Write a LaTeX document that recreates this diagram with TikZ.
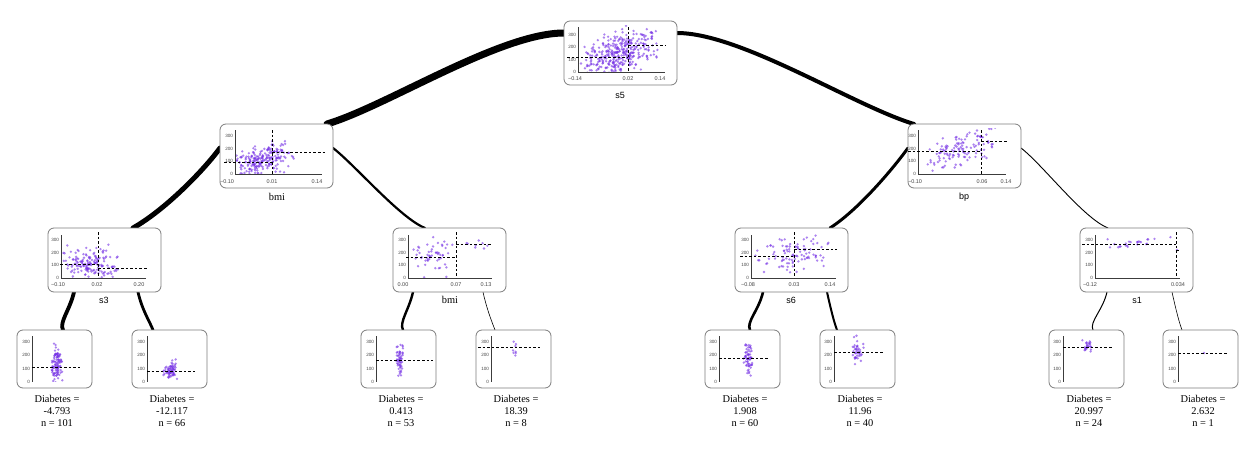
\documentclass[tikz,border=0pt]{standalone}
\usepackage{fontspec}
\setmainfont{Liberation Serif}
\setsansfont{Liberation Sans}
\usetikzlibrary{calc}
\pgfdeclarelayer{bg}
\pgfdeclarelayer{edges}
\pgfsetlayers{bg,edges,main}
\definecolor{ptc}{RGB}{118,50,230}
\definecolor{axc}{RGB}{60,60,60}
\definecolor{boxc}{RGB}{125,125,125}
\definecolor{tickc}{RGB}{70,70,70}
\tikzset{
 box/.style={draw=boxc, line width=0.8pt, rounded corners=6pt, inner sep=0pt, outer sep=0pt, fill=white, anchor=north west},
 dbox/.style={box, minimum width=113pt, minimum height=64pt},
 lbox/.style={box, minimum width=75pt, minimum height=58pt},
 axisl/.style={draw=axc, line width=0.8pt},
 meanl/.style={draw=black, line width=0.9pt, dash pattern=on 2.6pt off 2pt},
 pt/.style={fill=ptc, fill opacity=0.6},
 ytick/.style={font=\sffamily\fontsize{4.6}{5}\selectfont, text=tickc, anchor=east, inner sep=0pt},
 xtick/.style={font=\sffamily\fontsize{5.5}{6}\selectfont, text=tickc, inner sep=0pt},
 slab/.style={font=\sffamily\fontsize{9}{10}\selectfont, inner sep=0pt},
 rlab/.style={font=\fontsize{10.4}{12}\selectfont, inner sep=0pt},
 leaftxt/.style={font=\fontsize{10.4}{11.8}\selectfont, align=center, anchor=north, inner sep=0pt},
 conn/.style={draw=black, line cap=round},
}
% scatter: xc, xs, yc, slope, sd, n
\newcommand\scat[6]{\foreach \k in {1,...,#6}{%
  \pgfmathsetmacro\spx{#1+#2*(rnd+rnd-1)}%
  \pgfmathsetmacro\spy{#3+(#4)*(\spx-(#1))+#5*2*(rnd+rnd+rnd-1.5)}%
  \fill[pt] (\spx,\spy) circle (1.3pt);}}
% y ticks: prefix, axis x, y of zero, px per 100
\newcommand\yticks[4]{%
  \node[ytick] (#1y0) at (#2-1.8,#3) {0};
  \node[ytick] (#1y1) at (#2-1.8,#3-#4) {100};
  \node[ytick] (#1y2) at (#2-1.8,#3-2*#4) {200};
  \node[ytick] (#1y3) at (#2-1.8,#3-3*#4) {300};}
\begin{document}
\begin{tikzpicture}[x=1pt,y=-1pt]
\pgfmathsetseed{4242}
\begin{pgfonlayer}{bg}
\fill[white] (0,0) rectangle (1254,455);
\end{pgfonlayer}
\useasboundingbox (0,0) rectangle (1254,455);

% ---------- root s5 ----------
\node[dbox] (root) at (564,21) {};
\begin{scope}
 \clip (579,25) rectangle (668,71.4);
 \scat{620}{42}{53}{-0.3}{9}{353}
\end{scope}
\draw[axisl] (578,27) -- (578,72) -- (665,72);
\yticks{r}{578}{72}{12.33}
\node[xtick] (rx1) at (575,79) {−0.14};
\node[xtick] (rx2) at (628,79) {0.02};
\node[xtick] (rx3) at (660,79) {0.14};
\draw[meanl] (628,27) -- (628,72);
\draw[meanl] (567,57) -- (628,57);
\draw[meanl] (628,45) -- (665,45);
\node[slab] (rootlab) at (620,95) {s5};

% ---------- bmi ----------
\node[dbox] (bmi) at (220,124) {};
\begin{scope}
 \clip (236,128) rectangle (325,173.4);
 \scat{262}{33}{160}{-0.32}{7.5}{228}
\end{scope}
\draw[axisl] (235,130) -- (235,174) -- (322,174);
\yticks{b}{235}{174}{12.67}
\node[xtick] (bx1) at (227,182) {−0.10};
\node[xtick] (bx2) at (272,182) {0.01};
\node[xtick] (bx3) at (317,182) {0.14};
\draw[meanl] (272,130) -- (272,174);
\draw[meanl] (224,162) -- (272,162);
\draw[meanl] (272,152) -- (326,152);
\node[rlab] (bmilab) at (277,197) {bmi};

% ---------- bp ----------
\node[dbox] (bp) at (908,124) {};
\begin{scope}
 \clip (919,128) rectangle (1010,173.4);
 \scat{962}{42}{150}{-0.3}{8}{125}
\end{scope}
\draw[axisl] (918,130) -- (918,174) -- (1006,174);
\yticks{p}{918}{174}{12.67}
\node[xtick] (px1) at (915,182) {−0.10};
\node[xtick] (px2) at (982,182) {0.06};
\node[xtick] (px3) at (1006,182) {0.14};
\draw[meanl] (981,130) -- (981,174);
\draw[meanl] (908,151) -- (981,151);
\draw[meanl] (981,141) -- (1008,141);
\node[slab] (bplab) at (964,197) {bp};

% ---------- s3 ----------
\node[dbox] (s3) at (48,228) {};
\begin{scope}
 \clip (62,232) rectangle (150,277.4);
 \scat{90}{32}{264}{0.1}{7.5}{167}
\end{scope}
\draw[axisl] (61,235) -- (61,278) -- (146,278);
\yticks{t}{61}{278}{12.67}
\node[xtick] (tx1) at (58,285) {−0.10};
\node[xtick] (tx2) at (97,285) {0.02};
\node[xtick] (tx3) at (139,285) {0.20};
\draw[meanl] (98,232) -- (98,278);
\draw[meanl] (60,264) -- (98,264);
\draw[meanl] (98,268) -- (147,268);
\node[slab] (s3lab) at (104,300) {s3};

% ---------- bmi (2) ----------
\node[dbox] (bmii) at (393,228) {};
\begin{scope}
 \clip (409,232) rectangle (495,277.4);
 \scat{431}{24}{257}{-0.1}{8}{53}
 \scat{474}{16}{244}{0}{2.5}{8}
\end{scope}
\draw[axisl] (408,235) -- (408,278) -- (492,278);
\yticks{m}{408}{278}{12.67}
\node[xtick] (mx1) at (403,285) {0.00};
\node[xtick] (mx2) at (456,285) {0.07};
\node[xtick] (mx3) at (486,285) {0.13};
\draw[meanl] (456,232) -- (456,278);
\draw[meanl] (406,257) -- (456,257);
\draw[meanl] (456,244) -- (492,244);
\node[rlab] (bmiilab) at (450,300) {bmi};

% ---------- s6 ----------
\node[dbox] (s6) at (735,228) {};
\begin{scope}
 \clip (752,232) rectangle (840,277.4);
 \scat{793}{42}{254}{-0.12}{8}{100}
\end{scope}
\draw[axisl] (751,235) -- (751,278) -- (836,278);
\yticks{s}{751}{278}{12.67}
\node[xtick] (sx1) at (748,285) {−0.08};
\node[xtick] (sx2) at (794,285) {0.03};
\node[xtick] (sx3) at (830,285) {0.14};
\draw[meanl] (794,232) -- (794,278);
\draw[meanl] (740,256) -- (794,256);
\draw[meanl] (794,249) -- (837,249);
\node[slab] (s6lab) at (791,300) {s6};

% ---------- s1 ----------
\node[dbox] (s1) at (1080,228) {};
\begin{scope}
 \clip (1096,232) rectangle (1185,277.4);
 \scat{1138}{35}{244}{0}{3.5}{24}
 \fill[pt] (1177,250) circle (1.3pt);
\end{scope}
\draw[axisl] (1095,235) -- (1095,278) -- (1180,278);
\yticks{o}{1095}{278}{12.67}
\node[xtick] (ox1) at (1090,285) {−0.12};
\node[xtick] (ox2) at (1178,285) {0.034};
\draw[meanl] (1176,232) -- (1176,278);
\draw[meanl] (1082,244) -- (1176,244);
\draw[meanl] (1176,250) -- (1180,250);
\node[slab] (s1lab) at (1137,300) {s1};

% ---------- leaves ----------
% leaf 1
\node[lbox] (l1) at (17,330) {};
\begin{scope}\clip (33,333) rectangle (89,381.5); \scat{57}{6}{365}{0}{8}{101}\end{scope}
\draw[axisl] (32,336) -- (32,382);
\yticks{la}{32}{382}{13.33}
\draw[meanl] (32,367) -- (80,367);
\node[leaftxt] (l1t) at (57,395) {Diabetes =\\-4.793\\n = 101};
% leaf 2
\node[lbox] (l2) at (132,330) {};
\begin{scope}\clip (148,333) rectangle (204,381.5); \scat{170}{8}{370}{0}{4.5}{66}\end{scope}
\draw[axisl] (147,336) -- (147,382);
\yticks{lb}{147}{382}{13.33}
\draw[meanl] (147,371) -- (195,371);
\node[leaftxt] (l2t) at (172,395) {Diabetes =\\-12.117\\n = 66};
% leaf 3
\node[lbox] (l3) at (361,330) {};
\begin{scope}\clip (377,333) rectangle (433,381.5); \scat{400}{4}{360}{0}{7}{53}\end{scope}
\draw[axisl] (376,336) -- (376,382);
\yticks{lc}{376}{382}{13.33}
\draw[meanl] (376,360) -- (433,360);
\node[leaftxt] (l3t) at (401,395) {Diabetes =\\0.413\\n = 53};
% leaf 4
\node[lbox] (l4) at (476,330) {};
\begin{scope}\clip (492,333) rectangle (548,381.5); \scat{514}{4}{347}{0}{3.5}{8}\end{scope}
\draw[axisl] (491,336) -- (491,382);
\yticks{ld}{491}{382}{13.33}
\draw[meanl] (478,347) -- (540,347);
\node[leaftxt] (l4t) at (516,395) {Diabetes =\\18.39\\n = 8};
% leaf 5
\node[lbox] (l5) at (705,330) {};
\begin{scope}\clip (720,333) rectangle (776,381.5); \scat{748}{6}{358}{0}{8}{60}\end{scope}
\draw[axisl] (719,336) -- (719,382);
\yticks{le}{719}{382}{13.33}
\draw[meanl] (719,358) -- (768,358);
\node[leaftxt] (l5t) at (745,395) {Diabetes =\\1.908\\n = 60};
% leaf 6
\node[lbox] (l6) at (820,330) {};
\begin{scope}\clip (835,333) rectangle (891,381.5); \scat{858}{6}{352}{0}{6}{40}\end{scope}
\draw[axisl] (834,336) -- (834,382);
\yticks{lf}{834}{382}{13.33}
\draw[meanl] (834,352) -- (883,352);
\node[leaftxt] (l6t) at (860,395) {Diabetes =\\11.96\\n = 40};
% leaf 7
\node[lbox] (l7) at (1049,330) {};
\begin{scope}\clip (1064,333) rectangle (1120,381.5); \scat{1088}{6}{347}{0}{3}{24}\end{scope}
\draw[axisl] (1063,336) -- (1063,382);
\yticks{lg}{1063}{382}{13.33}
\draw[meanl] (1063,347) -- (1112,347);
\node[leaftxt] (l7t) at (1089,395) {Diabetes =\\20.997\\n = 24};
% leaf 8
\node[lbox] (l8) at (1163,330) {};
\fill[pt] (1204,353) circle (1.3pt);
\draw[axisl] (1178,336) -- (1178,382);
\yticks{lh}{1178}{382}{13.33}
\draw[meanl] (1178,353) -- (1227,353);
\node[leaftxt] (l8t) at (1203,395) {Diabetes =\\2.632\\n = 1};

% ---------- connectors ----------
\begin{pgfonlayer}{edges}
\draw[conn, line width=7pt] ($(root.north west)+(0,12)$) .. controls +(-64,0) and +(60,-18) .. ($(bmi.north east)+(-6,0)$);
\draw[conn, line width=4pt] ($(root.north east)+(0,12)$) .. controls +(64,0) and +(-60,-18) .. ($(bp.north west)+(6,0)$);
\draw[conn, line width=5pt] ($(bmi.north west)+(0,24)$) .. controls +(-16,22) and +(32,-18) .. ($(s3.north west)+(85,0)$);
\draw[conn, line width=2.2pt] ($(bmi.north east)+(0,24)$) .. controls +(22,17) and +(-25,-10) .. ($(bmii.north west)+(32,0)$);
\draw[conn, line width=3pt] ($(bp.north west)+(0,24)$) .. controls +(-16,22) and +(28,-18) .. ($(s6.north west)+(95,0)$);
\draw[conn, line width=0.9pt] ($(bp.north east)+(0,24)$) .. controls +(22,17) and +(-25,-10) .. ($(s1.north west)+(28,0)$);
\draw[conn, line width=3.8pt] ($(s3.south west)+(26,0)$) .. controls +(-4,18) and +(-4,-8) .. ($(l1.north west)+(46,0)$);
\draw[conn, line width=2.8pt] ($(s3.south west)+(90,0)$) .. controls +(4,18) and +(-3,-8) .. ($(l2.north west)+(21,0)$);
\draw[conn, line width=2.4pt] ($(bmii.south west)+(20,0)$) .. controls +(-4,18) and +(-4,-8) .. ($(l3.north west)+(42,0)$);
\draw[conn, line width=0.6pt] ($(bmii.south west)+(90,0)$) .. controls +(4,18) and +(-3,-8) .. ($(l4.north west)+(19,0)$);
\draw[conn, line width=2.6pt] ($(s6.south west)+(28,0)$) .. controls +(-4,18) and +(-4,-8) .. ($(l5.north west)+(45,0)$);
\draw[conn, line width=2pt] ($(s6.south west)+(92,0)$) .. controls +(4,18) and +(-3,-8) .. ($(l6.north west)+(17,0)$);
\draw[conn, line width=1pt] ($(s1.south west)+(27,0)$) .. controls +(-4,18) and +(-4,-8) .. ($(l7.north west)+(44,0)$);
\draw[conn, line width=0.6pt] ($(s1.south west)+(92,0)$) .. controls +(4,18) and +(-3,-8) .. ($(l8.north west)+(19,0)$);
\end{pgfonlayer}
\end{tikzpicture}
\end{document}
